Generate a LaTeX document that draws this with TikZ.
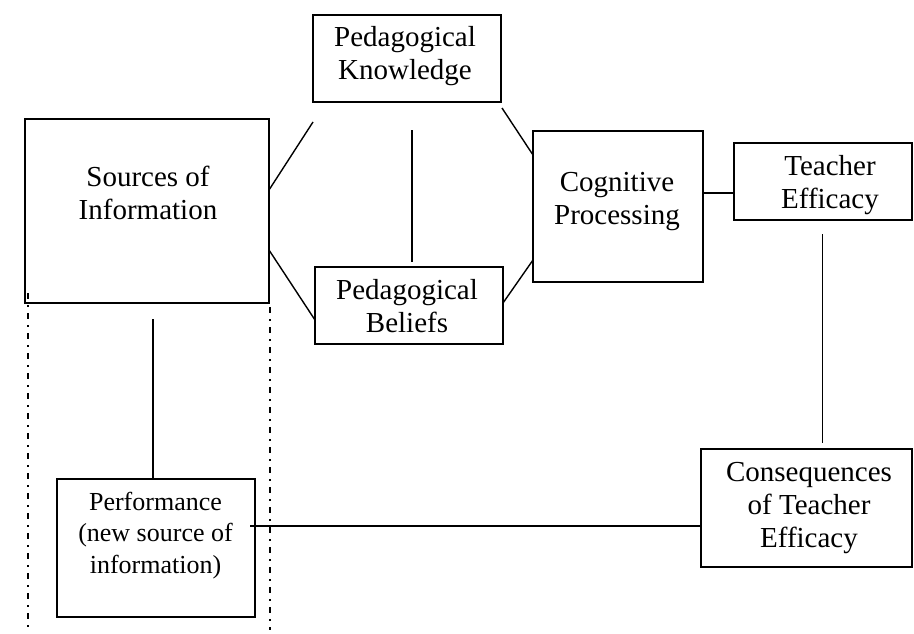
\documentclass[tikz,border=0pt]{standalone}
\usepackage{fontspec}
\setmainfont{Liberation Serif}
\usetikzlibrary{calc}

\tikzset{
  box/.style={draw, line width=1.5pt, inner sep=0pt, outer sep=0pt},
  label text/.style={align=center, inner sep=0pt, anchor=base,
    font=\fontsize{29}{33}\selectfont},
  small text/.style={label text, font=\fontsize{26}{31.2}\selectfont},
  link/.style={line width=1.4pt},
  dashdot rule/.style={line width=1.6pt, dash pattern=on 6pt off 6pt on 1.5pt off 6.5pt}
}

\begin{document}
\begin{tikzpicture}[x=1pt, y=-1pt]
\useasboundingbox (0,0) rectangle (914,634);

% boxes
\node[box, minimum width=244pt, minimum height=184pt] (src)  at (147,211)   {};
\node[box, minimum width=188pt, minimum height=87pt]  (pk)   at (407,58.5)  {};
\node[box, minimum width=188pt, minimum height=77pt]  (pb)   at (409,305.5) {};
\node[box, minimum width=170pt, minimum height=151pt] (cog)  at (618,206.5) {};
\node[box, minimum width=178pt, minimum height=77pt]  (te)   at (823,181.5) {};
\node[box, minimum width=211pt, minimum height=118pt] (cons) at (806.5,508) {};
\node[box, minimum width=198pt, minimum height=138pt] (perf) at (156,548)   {};

% box texts (placed on the last baseline)
\node[label text] at (148,219)   {Sources of\\Information};
\node[label text] at (405,80)    {Pedagogical\\Knowledge};
\node[label text] at (407,332.7) {Pedagogical\\Beliefs};
\node[label text] at (617,224)   {Cognitive\\Processing};
\node[label text] at (830,208.3) {Teacher\\Efficacy};
\node[label text] at (809,547.7) {Consequences\\of Teacher\\Efficacy};
\node[small text] at (155.5,573) {Performance\\(new source of\\information)};

% connectors
\draw[link] ($(src.east)+(0,-21)$) -- ($(pk.south west)+(0,20)$);
\draw[link] ($(src.east)+(0,39)$) -- ($(pb.west)+(0,14.5)$);
\draw[link] ($(pk.south)+(5,28)$) coordinate (pkb) -- ($(pkb |- pb.north)+(0,-5)$);
\draw[link] ($(pk.south east)+(1,6)$) -- ($(cog.north west)+(0,24)$);
\draw[link] ($(pb.east)+(0,-2.5)$) -- ($(cog.south west)+(0,-22)$);
\draw[link] ($(cog.east)+(0,-13.5)$) coordinate (cge) -- (cge -| te.west);
\draw[link] ($(te.south)+(-0.5,14)$) coordinate (teb) -- ($(teb |- cons.north)+(0,-6)$);
\draw[link] ($(src.south)+(6,16)$) coordinate (srb) -- (srb |- perf.north);
\draw[link] ($(perf.east)+(-5,-22)$) coordinate (pfe) -- (pfe -| cons.west);

% dash-dot guides below the sources box
\draw[dashdot rule] ($(src.south west)+(2.7,-10)$) coordinate (gl) -- (gl |- 0,630);
\draw[dashdot rule] ($(src.south east)+(1,4)$) coordinate (gr) -- (gr |- 0,630);
\end{tikzpicture}
\end{document}
